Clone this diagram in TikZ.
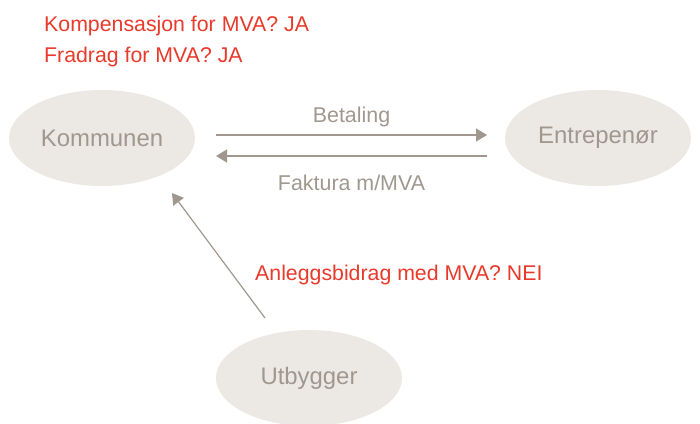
\documentclass[tikz,border=0pt]{standalone}
\usepackage{fontspec}
\setmainfont{Liberation Sans}
\usepackage{xcolor}
\definecolor{cfill}{HTML}{ECE9E4}
\definecolor{cgray}{HTML}{A0978F}
\definecolor{cred}{HTML}{E8392A}
\usepackage{tikz}
\usetikzlibrary{positioning, shapes.geometric, arrows.meta}
\tikzset{
Party/.style={
	ellipse,
	fill=cfill,
	text=cgray,
	inner sep=0pt,
	minimum width=186pt,
	minimum height=96pt,
	font=\fontsize{23.9}{28}\selectfont
},
Edge/.style={
	draw=cgray,
	line width=1.2pt,
	-{Triangle[length=11pt,width=13pt]}
},
EdgeLabel/.style={
	text=cgray,
	font=\fontsize{21.4}{25}\selectfont
},
Note/.style={
	text=cred,
	anchor=base west,
	inner sep=0pt,
	font=\fontsize{21.3}{25}\selectfont
}
}

\begin{document}
\begin{tikzpicture}[x=1pt, y=-1pt]
	\useasboundingbox (0,0) rectangle (700,423);

	\node[Party] (K) at (102,138) {Kommunen};
	\node[Party] (E) at (598,138) {Entrepenør};
	\node[Party] (U) at (309,378) {Utbygger};

	\coordinate (b1) at (216,135);
	\coordinate (b2) at (487,135);
	\coordinate (f1) at (487,156);
	\coordinate (f2) at (216,156);
	\coordinate (u1) at (265,318);
	\coordinate (u2) at (172,193);

	\draw[Edge] (b1) -- (b2) node[EdgeLabel, midway, above=4pt] (bet) {Betaling};
	\draw[Edge] (f1) -- (f2) node[EdgeLabel, midway, below=15pt] (fak) {Faktura m/MVA};
	\draw[Edge] (u1) -- (u2);

	\node[Note] (komp) at (44,31) {Kompensasjon for MVA? JA};
	\node[Note] (frad) at (44,62) {Fradrag for MVA? JA};
	\node[Note] (anl) at (255,280) {Anleggsbidrag med MVA? NEI};
\end{tikzpicture}
\end{document}
